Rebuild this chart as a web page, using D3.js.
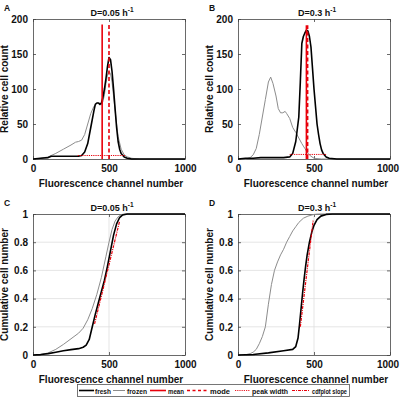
<!DOCTYPE html>
<html><head><meta charset="utf-8">
<script src="https://cdn.jsdelivr.net/npm/d3@7"></script>
<style>body{margin:0;background:#fff}svg{display:block}text{font-family:"Liberation Sans",Arial,sans-serif;font-weight:bold}</style>
</head><body><svg id="c" width="400" height="398"></svg>
<script>
// ---- data ----
const panelLetters = ["A","B","C","D"];
const panelTitles = ["D=0.05 h","D=0.3 h","D=0.05 h","D=0.3 h"];
const xTicks = [0, 500, 1000];
const histTicks = [0, 50, 100, 150, 200];
const cdfTicks = [0, 0.2, 0.4, 0.6, 0.8, 1];
const cdfTickLabels = ["0","0.2","0.4","0.6","0.8","1"];

// Panel A histogram (D=0.05)
const freshA = [[0,0],[50,1],[100,2],[120,4],[150,4],[200,4],[250,4],[300,4],[320,5],[340,10],[360,22],[380,45],[400,68],[410,78],[420,80],[430,80],[440,78],[450,80],[460,88],[470,100],[480,115],[490,132],[500,145],[510,142],[520,125],[530,100],[540,72],[550,45],[560,25],[570,14],[580,8],[600,3],[620,1],[650,0],[1000,0]];
const frozenA = [[0,0],[50,1],[100,3],[150,8],[200,14],[250,20],[280,24],[300,25],[320,27],[340,35],[360,50],[380,65],[400,75],[420,80],[440,80],[450,77],[460,82],[470,92],[480,108],[490,120],[500,125],[510,122],[520,110],[530,90],[540,70],[550,50],[560,32],[580,14],[600,6],[620,3],[650,1],[700,0],[1000,0]];
const meanA = 455, modeA = 500, markerTopA = 192;
const peakWidthA = [295, 605], peakWidthYA = 5;

// Panel B histogram (D=0.3)
const freshB = [[0,0],[50,1],[100,1],[150,2],[200,2],[250,2],[300,2],[340,3],[360,8],[380,25],[400,60],[410,110],[420,165],[430,175],[440,180],[450,184],[460,183],[470,175],[480,160],[490,130],[500,100],[510,75],[520,50],[530,35],[540,22],[550,13],[560,8],[580,3],[600,1],[650,0],[1000,0]];
const frozenB = [[0,0],[50,0],[80,2],[100,6],[120,15],[140,35],[160,60],[180,85],[200,110],[215,117],[230,108],[250,90],[265,72],[280,66],[295,66],[310,68],[320,65],[340,58],[360,45],[380,38],[400,30],[420,22],[440,15],[460,8],[480,4],[500,1],[550,0],[1000,0]];
const meanB = 450, modeB = 458, markerTopB = 191;
const peakWidthB = [340, 585], peakWidthYB = 6.5;

// Panel C cumulative (D=0.05)
const freshC = [[0,0],[50,0.003],[100,0.01],[150,0.02],[200,0.03],[250,0.038],[300,0.045],[330,0.055],[350,0.07],[370,0.11],[390,0.2],[410,0.29],[430,0.37],[450,0.45],[470,0.53],[490,0.63],[510,0.74],[530,0.85],[550,0.93],[570,0.975],[590,0.993],[620,1],[1000,1]];
const frozenC = [[0,0],[50,0.002],[100,0.015],[150,0.04],[200,0.075],[250,0.115],[300,0.155],[330,0.19],[360,0.25],[390,0.33],[420,0.43],[450,0.55],[480,0.7],[500,0.8],[520,0.89],[540,0.95],[560,0.98],[580,0.995],[600,1],[1000,1]];
const slopeC = [[405,0.22],[570,0.95]];

// Panel D cumulative (D=0.3)
const freshD = [[0,0],[100,0.004],[200,0.015],[300,0.03],[360,0.04],[380,0.06],[395,0.12],[405,0.22],[415,0.33],[425,0.44],[435,0.54],[445,0.63],[455,0.71],[470,0.8],[485,0.87],[500,0.92],[520,0.96],[545,0.985],[580,0.997],[620,1],[1000,1]];
const frozenD = [[0,0],[50,0.002],[80,0.01],[100,0.02],[120,0.04],[140,0.08],[160,0.13],[180,0.2],[200,0.36],[220,0.5],[240,0.6],[260,0.66],[280,0.71],[300,0.75],[320,0.8],[340,0.84],[360,0.88],[380,0.91],[400,0.94],[430,0.97],[460,0.985],[500,0.997],[530,1],[1000,1]];
const slopeD = [[410,0.2],[495,0.96]];

const legendLabels = ["fresh","frozen","mean","mode","peak width","cdfplot slope"];

// ---- drawing ----
const svg = d3.select("#c");
const RED = "#e8000b", GRAY = "#8c8c8c";
const boxes = [
  {l:33, r:185, t:19, b:159},
  {l:238, r:390, t:19, b:159},
  {l:33, r:185, t:214, b:355},
  {l:238, r:390, t:214, b:355}
];

function panel(i, yDomain, yTicks, yFmt, yLabel, grid) {
  const bx = boxes[i];
  const x = d3.scaleLinear().domain([0,1000]).range([bx.l, bx.r]);
  const y = d3.scaleLinear().domain(yDomain).range([bx.b, bx.t]);
  const g = svg.append("g");
  if (grid) {
    g.selectAll(".gy").data(yTicks.slice(1,-1)).join("line")
      .attr("x1", bx.l).attr("x2", bx.r).attr("y1", d=>y(d)).attr("y2", d=>y(d))
      .attr("stroke","#dedede").attr("stroke-width",0.8);
    g.selectAll(".gx").data(xTicks.slice(1,-1)).join("line")
      .attr("y1", bx.t).attr("y2", bx.b).attr("x1", d=>x(d)).attr("x2", d=>x(d))
      .attr("stroke","#dedede").attr("stroke-width",0.8);
  }
  const ax = g.append("g").attr("transform",`translate(0,${bx.b})`)
    .call(d3.axisBottom(x).tickValues(xTicks).tickFormat(d3.format("d")).tickSizeInner(-3).tickSizeOuter(0).tickPadding(6));
  const axT = g.append("g").attr("transform",`translate(0,${bx.t})`)
    .call(d3.axisTop(x).tickValues(xTicks).tickSizeInner(-3).tickSizeOuter(0).tickFormat(""));
  const ay = g.append("g").attr("transform",`translate(${bx.l},0)`)
    .call(d3.axisLeft(y).tickValues(yTicks).tickFormat(yFmt).tickSizeInner(-3).tickSizeOuter(0).tickPadding(5));
  const ayR = g.append("g").attr("transform",`translate(${bx.r},0)`)
    .call(d3.axisRight(y).tickValues(yTicks).tickSizeInner(-3).tickSizeOuter(0).tickFormat(""));
  [ax,axT,ay,ayR].forEach(a=>{
    a.select(".domain").attr("stroke","#444").attr("stroke-width",0.8);
    a.selectAll(".tick line").attr("stroke","#444").attr("stroke-width",0.8);
    a.selectAll("text").attr("font-size",10).attr("font-weight","bold").attr("fill","#111")
      .attr("font-family","Liberation Sans, Arial, sans-serif");
  });
  ax.selectAll(".tick text").filter(d=>d===1000).attr("dx", i%2===1 ? -2.5 : 0);
  svg.append("text").attr("x",(bx.l+bx.r)/2+2).attr("y",bx.b+28).attr("text-anchor","middle")
    .attr("font-size",10).attr("fill","#111").text("Fluorescence channel number");
  svg.append("text").attr("transform",`translate(${bx.l-25},${(bx.t+bx.b)/2}) rotate(-90)`)
    .attr("text-anchor","middle").attr("font-size",10).attr("fill","#111").text(yLabel);
  const tt = svg.append("text").attr("x",(bx.l+bx.r)/2+3).attr("y",bx.t-3).attr("text-anchor","middle")
    .attr("font-size",9).attr("fill","#111").text(panelTitles[i]);
  tt.append("tspan").attr("dy",-4).attr("font-size",6.5).text("-1");
  svg.append("text").attr("x",bx.l-29).attr("y",bx.t-8).attr("font-size",8.5).attr("fill","#111").text(panelLetters[i]);
  return {x,y,g};
}

function curve(p, data, color, w, dash) {
  const line = d3.line().x(d=>p.x(d[0])).y(d=>p.y(d[1]));
  p.g.append("path").datum(data).attr("d",line).attr("fill","none")
    .attr("stroke",color).attr("stroke-width",w).attr("stroke-dasharray",dash||null)
    .attr("stroke-linejoin","round");
}

function histPanel(i, fresh, frozen, mean, mode, top, pw, pwy) {
  const p = panel(i, [0,200], histTicks, d3.format("d"), "Relative cell count", false);
  curve(p, frozen, GRAY, 1);
  curve(p, fresh, "#000", 1.6);
  curve(p, [[pw[0],pwy],[pw[1],pwy]], RED, 1, "1.2,1");
  curve(p, [[mean,0],[mean,top]], RED, 1.6);
  curve(p, [[mode,0],[mode,top]], RED, 1.6, "4,2.5");
}
function cdfPanel(i, fresh, frozen, slope) {
  const p = panel(i, [0,1], cdfTicks, (d,k)=>cdfTickLabels[k], "Cumulative cell number", true);
  curve(p, frozen, GRAY, 1);
  curve(p, fresh, "#000", 1.6);
  curve(p, slope, RED, 1.2, "3,1,1,1");
}

histPanel(0, freshA, frozenA, meanA, modeA, markerTopA, peakWidthA, peakWidthYA);
histPanel(1, freshB, frozenB, meanB, modeB, markerTopB, peakWidthB, peakWidthYB);
cdfPanel(2, freshC, frozenC, slopeC);
cdfPanel(3, freshD, frozenD, slopeD);

// legend
const lg = svg.append("g");
lg.append("rect").attr("x",77.5).attr("y",384.5).attr("width",272).attr("height",12)
  .attr("fill","#fff").attr("stroke","#555").attr("stroke-width",0.8);
const items = [
  {x0:79, x1:94, tx:95, tw:16, c:"#000", w:1.6, dash:null},
  {x0:113, x1:125, tx:127, tw:20, c:GRAY, w:1, dash:null},
  {x0:150, x1:166, tx:168, tw:16, c:RED, w:1.6, dash:null},
  {x0:187, x1:207, tx:210, tw:20, c:RED, w:1.4, dash:"3,2.5"},
  {x0:235, x1:250, tx:252, tw:36, c:RED, w:0.9, dash:"1.2,1"},
  {x0:292, x1:310, tx:312, tw:35, c:RED, w:1.1, dash:"3,1,1,1"}
];
items.forEach((it,k)=>{
  lg.append("line").attr("x1",it.x0).attr("x2",it.x1).attr("y1",390.5).attr("y2",390.5)
    .attr("stroke",it.c).attr("stroke-width",it.w).attr("stroke-dasharray",it.dash);
  lg.append("text").attr("x",it.tx).attr("y",393.5).attr("font-size",7.2).attr("fill","#111")
    .attr("textLength",it.tw).attr("lengthAdjust","spacingAndGlyphs").text(legendLabels[k]);
});
</script></body></html>
